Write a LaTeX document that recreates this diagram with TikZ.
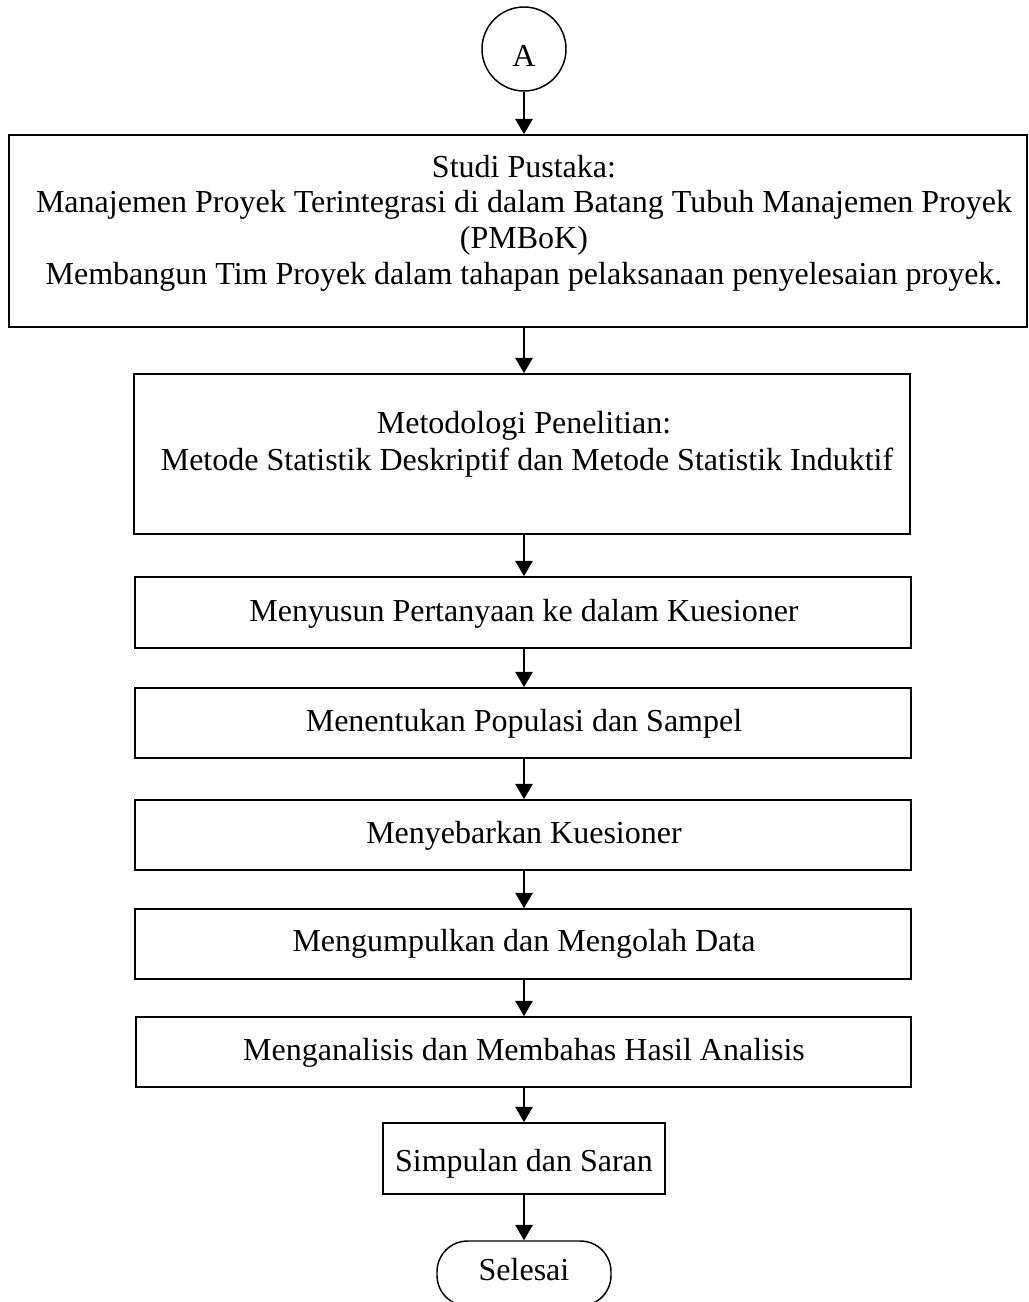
\documentclass[tikz,border=0pt]{standalone}
\usepackage{fontspec}
\setmainfont{Liberation Serif}
\usetikzlibrary{arrows.meta,fit}
\begin{document}
\begin{tikzpicture}[x=0.75pt,y=-0.75pt,
  box/.style={draw, line width=1.3pt, inner sep=0pt, rectangle},
  term/.style={box, line width=1.1pt, rounded corners=23pt},
  circ/.style={draw, line width=1.1pt, circle, inner sep=0pt, minimum size=63pt},
  txt/.style={anchor=base, inner sep=0pt, font=\fontsize{24pt}{27pt}\selectfont},
  arr/.style={line width=1.5pt, -{Triangle[length=11.5pt,width=13pt]}}]
\useasboundingbox (0,0) rectangle (1028,1302);
% start connector
\node[circ] (cA) at (524,49) {};
\node[txt] (tA) at (524,67) {A};
% boxes
\node[box, fit={(9,135) (1027,327)}] (b1) {};
\node[txt] (t1a) at (524,177) {Studi Pustaka:};
\node[txt] (t1b) at (524,212) {Manajemen Proyek Terintegrasi di dalam Batang Tubuh Manajemen Proyek};
\node[txt] (t1c) at (524,248) {(PMBoK)};
\node[txt] (t1d) at (524,284) {Membangun Tim Proyek dalam tahapan pelaksanaan penyelesaian proyek.};
\node[box, fit={(134,374) (910,534)}] (b2) {};
\node[txt] (t2a) at (524,433) {Metodologi Penelitian:};
\node[txt] (t2b) at (527,470) {Metode Statistik Deskriptif dan Metode Statistik Induktif};
\node[box, fit={(135,577) (911,648)}] (b3) {};
\node[txt] (t3) at (524,621) {Menyusun Pertanyaan ke dalam Kuesioner};
\node[box, fit={(135,688) (911,758)}] (b4) {};
\node[txt] (t4) at (524,731) {Menentukan Populasi dan Sampel};
\node[box, fit={(135,800) (911,870)}] (b5) {};
\node[txt] (t5) at (524,843) {Menyebarkan Kuesioner};
\node[box, fit={(135,909) (911,979)}] (b6) {};
\node[txt] (t6) at (524,951) {Mengumpulkan dan Mengolah Data};
\node[box, fit={(136,1017) (911,1087)}] (b7) {};
\node[txt] (t7) at (524,1060) {Menganalisis dan Membahas Hasil Analisis};
\node[box, fit={(383,1123) (665,1194)}] (b8) {};
\node[txt] (t8) at (524,1171) {Simpulan dan Saran};
\node[term, fit={(437,1241) (611,1306)}] (end) {};
\node[txt] (tend) at (524,1280) {Selesai};
% connectors
\draw[arr] (cA.south) -- (cA.south |- b1.north);
\draw[arr] (b1.south -| cA) -- (cA |- b2.north);
\draw[arr] (b2.south -| cA) -- (cA |- b3.north);
\draw[arr] (b3.south -| cA) -- (cA |- b4.north);
\draw[arr] (b4.south -| cA) -- (cA |- b5.north);
\draw[arr] (b5.south -| cA) -- (cA |- b6.north);
\draw[arr] (b6.south -| cA) -- (cA |- b7.north);
\draw[arr] (b7.south -| cA) -- (cA |- b8.north);
\draw[arr] (b8.south -| cA) -- (cA |- end.north);
\end{tikzpicture}
\end{document}
